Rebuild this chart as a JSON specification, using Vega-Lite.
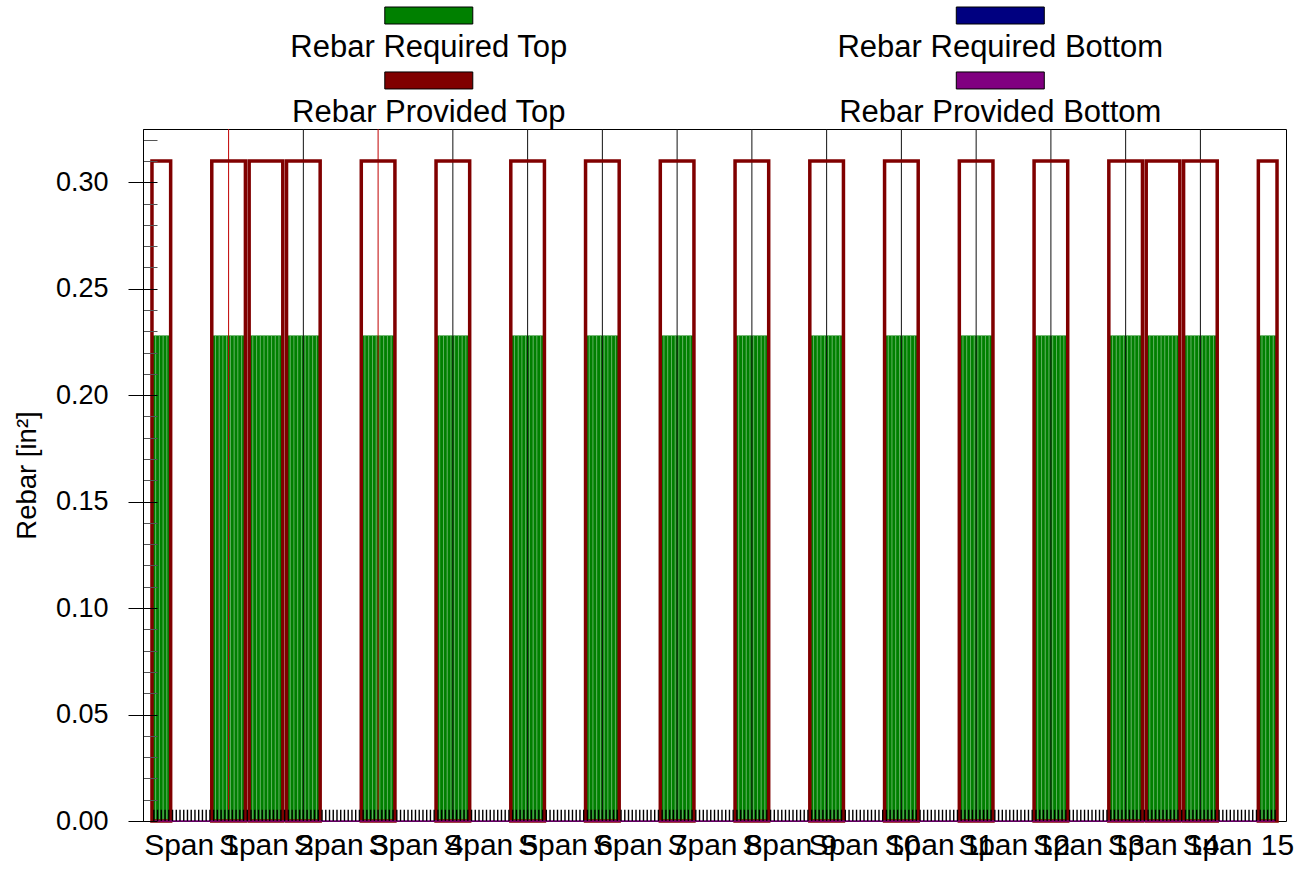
{
  "$schema": "https://vega.github.io/schema/vega-lite/v6.json",
  "width": 1143,
  "height": 692,
  "autosize": {"type": "none"},
  "padding": {"left": 143, "top": 129, "right": 26, "bottom": 52},
  "background": "white",
  "config": {
    "view": {"stroke": "black", "strokeWidth": 1},
    "font": "Liberation Sans",
    "axis": {"labelFont": "Liberation Sans", "titleFont": "Liberation Sans", "labelColor": "black", "titleColor": "black"}
  },
  "datasets": {
    "pts": [
      {"pos":0,"top":0.228,"bot":0.0053},{"pos":0.05,"top":0.228,"bot":0.0053},{"pos":0.1,"top":0.228,"bot":0.0053},{"pos":0.15,"top":0.228,"bot":0.0053},{"pos":0.2,"top":0.228,"bot":0.0053},{"pos":0.25,"top":0,"bot":0.0053},{"pos":0.3,"top":0,"bot":0.0053},{"pos":0.35,"top":0,"bot":0.0053},{"pos":0.4,"top":0,"bot":0.0053},{"pos":0.45,"top":0,"bot":0.0053},{"pos":0.5,"top":0,"bot":0.0053},{"pos":0.55,"top":0,"bot":0.0053},{"pos":0.6,"top":0,"bot":0.0053},{"pos":0.65,"top":0,"bot":0.0053},{"pos":0.7,"top":0,"bot":0.0053},{"pos":0.75,"top":0,"bot":0.0053},{"pos":0.8,"top":0.228,"bot":0.0053},{"pos":0.85,"top":0.228,"bot":0.0053},{"pos":0.9,"top":0.228,"bot":0.0053},{"pos":0.95,"top":0.228,"bot":0.0053},
      {"pos":1,"top":0.228,"bot":0.0053},{"pos":1.05,"top":0.228,"bot":0.0053},{"pos":1.1,"top":0.228,"bot":0.0053},{"pos":1.15,"top":0.228,"bot":0.0053},{"pos":1.2,"top":0.228,"bot":0.0053},{"pos":1.25,"top":0,"bot":0.0053},{"pos":1.3,"top":0.228,"bot":0.0053},{"pos":1.35,"top":0.228,"bot":0.0053},{"pos":1.4,"top":0.228,"bot":0.0053},{"pos":1.45,"top":0.228,"bot":0.0053},{"pos":1.5,"top":0.228,"bot":0.0053},{"pos":1.55,"top":0.228,"bot":0.0053},{"pos":1.6,"top":0.228,"bot":0.0053},{"pos":1.65,"top":0.228,"bot":0.0053},{"pos":1.7,"top":0.228,"bot":0.0053},{"pos":1.75,"top":0,"bot":0.0053},{"pos":1.8,"top":0.228,"bot":0.0053},{"pos":1.85,"top":0.228,"bot":0.0053},{"pos":1.9,"top":0.228,"bot":0.0053},{"pos":1.95,"top":0.228,"bot":0.0053},
      {"pos":2,"top":0.228,"bot":0.0053},{"pos":2.05,"top":0.228,"bot":0.0053},{"pos":2.1,"top":0.228,"bot":0.0053},{"pos":2.15,"top":0.228,"bot":0.0053},{"pos":2.2,"top":0.228,"bot":0.0053},{"pos":2.25,"top":0,"bot":0.0053},{"pos":2.3,"top":0,"bot":0.0053},{"pos":2.35,"top":0,"bot":0.0053},{"pos":2.4,"top":0,"bot":0.0053},{"pos":2.45,"top":0,"bot":0.0053},{"pos":2.5,"top":0,"bot":0.0053},{"pos":2.55,"top":0,"bot":0.0053},{"pos":2.6,"top":0,"bot":0.0053},{"pos":2.65,"top":0,"bot":0.0053},{"pos":2.7,"top":0,"bot":0.0053},{"pos":2.75,"top":0,"bot":0.0053},{"pos":2.8,"top":0.228,"bot":0.0053},{"pos":2.85,"top":0.228,"bot":0.0053},{"pos":2.9,"top":0.228,"bot":0.0053},{"pos":2.95,"top":0.228,"bot":0.0053},
      {"pos":3,"top":0.228,"bot":0.0053},{"pos":3.05,"top":0.228,"bot":0.0053},{"pos":3.1,"top":0.228,"bot":0.0053},{"pos":3.15,"top":0.228,"bot":0.0053},{"pos":3.2,"top":0.228,"bot":0.0053},{"pos":3.25,"top":0,"bot":0.0053},{"pos":3.3,"top":0,"bot":0.0053},{"pos":3.35,"top":0,"bot":0.0053},{"pos":3.4,"top":0,"bot":0.0053},{"pos":3.45,"top":0,"bot":0.0053},{"pos":3.5,"top":0,"bot":0.0053},{"pos":3.55,"top":0,"bot":0.0053},{"pos":3.6,"top":0,"bot":0.0053},{"pos":3.65,"top":0,"bot":0.0053},{"pos":3.7,"top":0,"bot":0.0053},{"pos":3.75,"top":0,"bot":0.0053},{"pos":3.8,"top":0.228,"bot":0.0053},{"pos":3.85,"top":0.228,"bot":0.0053},{"pos":3.9,"top":0.228,"bot":0.0053},{"pos":3.95,"top":0.228,"bot":0.0053},
      {"pos":4,"top":0.228,"bot":0.0053},{"pos":4.05,"top":0.228,"bot":0.0053},{"pos":4.1,"top":0.228,"bot":0.0053},{"pos":4.15,"top":0.228,"bot":0.0053},{"pos":4.2,"top":0.228,"bot":0.0053},{"pos":4.25,"top":0,"bot":0.0053},{"pos":4.3,"top":0,"bot":0.0053},{"pos":4.35,"top":0,"bot":0.0053},{"pos":4.4,"top":0,"bot":0.0053},{"pos":4.45,"top":0,"bot":0.0053},{"pos":4.5,"top":0,"bot":0.0053},{"pos":4.55,"top":0,"bot":0.0053},{"pos":4.6,"top":0,"bot":0.0053},{"pos":4.65,"top":0,"bot":0.0053},{"pos":4.7,"top":0,"bot":0.0053},{"pos":4.75,"top":0,"bot":0.0053},{"pos":4.8,"top":0.228,"bot":0.0053},{"pos":4.85,"top":0.228,"bot":0.0053},{"pos":4.9,"top":0.228,"bot":0.0053},{"pos":4.95,"top":0.228,"bot":0.0053},
      {"pos":5,"top":0.228,"bot":0.0053},{"pos":5.05,"top":0.228,"bot":0.0053},{"pos":5.1,"top":0.228,"bot":0.0053},{"pos":5.15,"top":0.228,"bot":0.0053},{"pos":5.2,"top":0.228,"bot":0.0053},{"pos":5.25,"top":0,"bot":0.0053},{"pos":5.3,"top":0,"bot":0.0053},{"pos":5.35,"top":0,"bot":0.0053},{"pos":5.4,"top":0,"bot":0.0053},{"pos":5.45,"top":0,"bot":0.0053},{"pos":5.5,"top":0,"bot":0.0053},{"pos":5.55,"top":0,"bot":0.0053},{"pos":5.6,"top":0,"bot":0.0053},{"pos":5.65,"top":0,"bot":0.0053},{"pos":5.7,"top":0,"bot":0.0053},{"pos":5.75,"top":0,"bot":0.0053},{"pos":5.8,"top":0.228,"bot":0.0053},{"pos":5.85,"top":0.228,"bot":0.0053},{"pos":5.9,"top":0.228,"bot":0.0053},{"pos":5.95,"top":0.228,"bot":0.0053},
      {"pos":6,"top":0.228,"bot":0.0053},{"pos":6.05,"top":0.228,"bot":0.0053},{"pos":6.1,"top":0.228,"bot":0.0053},{"pos":6.15,"top":0.228,"bot":0.0053},{"pos":6.2,"top":0.228,"bot":0.0053},{"pos":6.25,"top":0,"bot":0.0053},{"pos":6.3,"top":0,"bot":0.0053},{"pos":6.35,"top":0,"bot":0.0053},{"pos":6.4,"top":0,"bot":0.0053},{"pos":6.45,"top":0,"bot":0.0053},{"pos":6.5,"top":0,"bot":0.0053},{"pos":6.55,"top":0,"bot":0.0053},{"pos":6.6,"top":0,"bot":0.0053},{"pos":6.65,"top":0,"bot":0.0053},{"pos":6.7,"top":0,"bot":0.0053},{"pos":6.75,"top":0,"bot":0.0053},{"pos":6.8,"top":0.228,"bot":0.0053},{"pos":6.85,"top":0.228,"bot":0.0053},{"pos":6.9,"top":0.228,"bot":0.0053},{"pos":6.95,"top":0.228,"bot":0.0053},
      {"pos":7,"top":0.228,"bot":0.0053},{"pos":7.05,"top":0.228,"bot":0.0053},{"pos":7.1,"top":0.228,"bot":0.0053},{"pos":7.15,"top":0.228,"bot":0.0053},{"pos":7.2,"top":0.228,"bot":0.0053},{"pos":7.25,"top":0,"bot":0.0053},{"pos":7.3,"top":0,"bot":0.0053},{"pos":7.35,"top":0,"bot":0.0053},{"pos":7.4,"top":0,"bot":0.0053},{"pos":7.45,"top":0,"bot":0.0053},{"pos":7.5,"top":0,"bot":0.0053},{"pos":7.55,"top":0,"bot":0.0053},{"pos":7.6,"top":0,"bot":0.0053},{"pos":7.65,"top":0,"bot":0.0053},{"pos":7.7,"top":0,"bot":0.0053},{"pos":7.75,"top":0,"bot":0.0053},{"pos":7.8,"top":0.228,"bot":0.0053},{"pos":7.85,"top":0.228,"bot":0.0053},{"pos":7.9,"top":0.228,"bot":0.0053},{"pos":7.95,"top":0.228,"bot":0.0053},
      {"pos":8,"top":0.228,"bot":0.0053},{"pos":8.05,"top":0.228,"bot":0.0053},{"pos":8.1,"top":0.228,"bot":0.0053},{"pos":8.15,"top":0.228,"bot":0.0053},{"pos":8.2,"top":0.228,"bot":0.0053},{"pos":8.25,"top":0,"bot":0.0053},{"pos":8.3,"top":0,"bot":0.0053},{"pos":8.35,"top":0,"bot":0.0053},{"pos":8.4,"top":0,"bot":0.0053},{"pos":8.45,"top":0,"bot":0.0053},{"pos":8.5,"top":0,"bot":0.0053},{"pos":8.55,"top":0,"bot":0.0053},{"pos":8.6,"top":0,"bot":0.0053},{"pos":8.65,"top":0,"bot":0.0053},{"pos":8.7,"top":0,"bot":0.0053},{"pos":8.75,"top":0,"bot":0.0053},{"pos":8.8,"top":0.228,"bot":0.0053},{"pos":8.85,"top":0.228,"bot":0.0053},{"pos":8.9,"top":0.228,"bot":0.0053},{"pos":8.95,"top":0.228,"bot":0.0053},
      {"pos":9,"top":0.228,"bot":0.0053},{"pos":9.05,"top":0.228,"bot":0.0053},{"pos":9.1,"top":0.228,"bot":0.0053},{"pos":9.15,"top":0.228,"bot":0.0053},{"pos":9.2,"top":0.228,"bot":0.0053},{"pos":9.25,"top":0,"bot":0.0053},{"pos":9.3,"top":0,"bot":0.0053},{"pos":9.35,"top":0,"bot":0.0053},{"pos":9.4,"top":0,"bot":0.0053},{"pos":9.45,"top":0,"bot":0.0053},{"pos":9.5,"top":0,"bot":0.0053},{"pos":9.55,"top":0,"bot":0.0053},{"pos":9.6,"top":0,"bot":0.0053},{"pos":9.65,"top":0,"bot":0.0053},{"pos":9.7,"top":0,"bot":0.0053},{"pos":9.75,"top":0,"bot":0.0053},{"pos":9.8,"top":0.228,"bot":0.0053},{"pos":9.85,"top":0.228,"bot":0.0053},{"pos":9.9,"top":0.228,"bot":0.0053},{"pos":9.95,"top":0.228,"bot":0.0053},
      {"pos":10,"top":0.228,"bot":0.0053},{"pos":10.05,"top":0.228,"bot":0.0053},{"pos":10.1,"top":0.228,"bot":0.0053},{"pos":10.15,"top":0.228,"bot":0.0053},{"pos":10.2,"top":0.228,"bot":0.0053},{"pos":10.25,"top":0,"bot":0.0053},{"pos":10.3,"top":0,"bot":0.0053},{"pos":10.35,"top":0,"bot":0.0053},{"pos":10.4,"top":0,"bot":0.0053},{"pos":10.45,"top":0,"bot":0.0053},{"pos":10.5,"top":0,"bot":0.0053},{"pos":10.55,"top":0,"bot":0.0053},{"pos":10.6,"top":0,"bot":0.0053},{"pos":10.65,"top":0,"bot":0.0053},{"pos":10.7,"top":0,"bot":0.0053},{"pos":10.75,"top":0,"bot":0.0053},{"pos":10.8,"top":0.228,"bot":0.0053},{"pos":10.85,"top":0.228,"bot":0.0053},{"pos":10.9,"top":0.228,"bot":0.0053},{"pos":10.95,"top":0.228,"bot":0.0053},
      {"pos":11,"top":0.228,"bot":0.0053},{"pos":11.05,"top":0.228,"bot":0.0053},{"pos":11.1,"top":0.228,"bot":0.0053},{"pos":11.15,"top":0.228,"bot":0.0053},{"pos":11.2,"top":0.228,"bot":0.0053},{"pos":11.25,"top":0,"bot":0.0053},{"pos":11.3,"top":0,"bot":0.0053},{"pos":11.35,"top":0,"bot":0.0053},{"pos":11.4,"top":0,"bot":0.0053},{"pos":11.45,"top":0,"bot":0.0053},{"pos":11.5,"top":0,"bot":0.0053},{"pos":11.55,"top":0,"bot":0.0053},{"pos":11.6,"top":0,"bot":0.0053},{"pos":11.65,"top":0,"bot":0.0053},{"pos":11.7,"top":0,"bot":0.0053},{"pos":11.75,"top":0,"bot":0.0053},{"pos":11.8,"top":0.228,"bot":0.0053},{"pos":11.85,"top":0.228,"bot":0.0053},{"pos":11.9,"top":0.228,"bot":0.0053},{"pos":11.95,"top":0.228,"bot":0.0053},
      {"pos":12,"top":0.228,"bot":0.0053},{"pos":12.05,"top":0.228,"bot":0.0053},{"pos":12.1,"top":0.228,"bot":0.0053},{"pos":12.15,"top":0.228,"bot":0.0053},{"pos":12.2,"top":0.228,"bot":0.0053},{"pos":12.25,"top":0,"bot":0.0053},{"pos":12.3,"top":0,"bot":0.0053},{"pos":12.35,"top":0,"bot":0.0053},{"pos":12.4,"top":0,"bot":0.0053},{"pos":12.45,"top":0,"bot":0.0053},{"pos":12.5,"top":0,"bot":0.0053},{"pos":12.55,"top":0,"bot":0.0053},{"pos":12.6,"top":0,"bot":0.0053},{"pos":12.65,"top":0,"bot":0.0053},{"pos":12.7,"top":0,"bot":0.0053},{"pos":12.75,"top":0,"bot":0.0053},{"pos":12.8,"top":0.228,"bot":0.0053},{"pos":12.85,"top":0.228,"bot":0.0053},{"pos":12.9,"top":0.228,"bot":0.0053},{"pos":12.95,"top":0.228,"bot":0.0053},
      {"pos":13,"top":0.228,"bot":0.0053},{"pos":13.05,"top":0.228,"bot":0.0053},{"pos":13.1,"top":0.228,"bot":0.0053},{"pos":13.15,"top":0.228,"bot":0.0053},{"pos":13.2,"top":0.228,"bot":0.0053},{"pos":13.25,"top":0,"bot":0.0053},{"pos":13.3,"top":0.228,"bot":0.0053},{"pos":13.35,"top":0.228,"bot":0.0053},{"pos":13.4,"top":0.228,"bot":0.0053},{"pos":13.45,"top":0.228,"bot":0.0053},{"pos":13.5,"top":0.228,"bot":0.0053},{"pos":13.55,"top":0.228,"bot":0.0053},{"pos":13.6,"top":0.228,"bot":0.0053},{"pos":13.65,"top":0.228,"bot":0.0053},{"pos":13.7,"top":0.228,"bot":0.0053},{"pos":13.75,"top":0,"bot":0.0053},{"pos":13.8,"top":0.228,"bot":0.0053},{"pos":13.85,"top":0.228,"bot":0.0053},{"pos":13.9,"top":0.228,"bot":0.0053},{"pos":13.95,"top":0.228,"bot":0.0053},
      {"pos":14,"top":0.228,"bot":0.0053},{"pos":14.05,"top":0.228,"bot":0.0053},{"pos":14.1,"top":0.228,"bot":0.0053},{"pos":14.15,"top":0.228,"bot":0.0053},{"pos":14.2,"top":0.228,"bot":0.0053},{"pos":14.25,"top":0,"bot":0.0053},{"pos":14.3,"top":0,"bot":0.0053},{"pos":14.35,"top":0,"bot":0.0053},{"pos":14.4,"top":0,"bot":0.0053},{"pos":14.45,"top":0,"bot":0.0053},{"pos":14.5,"top":0,"bot":0.0053},{"pos":14.55,"top":0,"bot":0.0053},{"pos":14.6,"top":0,"bot":0.0053},{"pos":14.65,"top":0,"bot":0.0053},{"pos":14.7,"top":0,"bot":0.0053},{"pos":14.75,"top":0,"bot":0.0053},{"pos":14.8,"top":0.228,"bot":0.0053},{"pos":14.85,"top":0.228,"bot":0.0053},{"pos":14.9,"top":0.228,"bot":0.0053},{"pos":14.95,"top":0.228,"bot":0.0053},
      {"pos":15,"top":0.228,"bot":0.0053}
    ],
    "provided": [
      {"start":-0.025,"end":0.225,"prov":0.31},
      {"start":0.775,"end":1.225,"prov":0.31},
      {"start":1.275,"end":1.725,"prov":0.31},
      {"start":1.775,"end":2.225,"prov":0.31},
      {"start":2.775,"end":3.225,"prov":0.31},
      {"start":3.775,"end":4.225,"prov":0.31},
      {"start":4.775,"end":5.225,"prov":0.31},
      {"start":5.775,"end":6.225,"prov":0.31},
      {"start":6.775,"end":7.225,"prov":0.31},
      {"start":7.775,"end":8.225,"prov":0.31},
      {"start":8.775,"end":9.225,"prov":0.31},
      {"start":9.775,"end":10.225,"prov":0.31},
      {"start":10.775,"end":11.225,"prov":0.31},
      {"start":11.775,"end":12.225,"prov":0.31},
      {"start":12.775,"end":13.225,"prov":0.31},
      {"start":13.275,"end":13.725,"prov":0.31},
      {"start":13.775,"end":14.225,"prov":0.31},
      {"start":14.775,"end":15.025,"prov":0.31}
    ],
    "supports": [
      {"pos":1,"grp":"a"},{"pos":2,"grp":"b"},{"pos":3,"grp":"a"},{"pos":4,"grp":"b"},{"pos":5,"grp":"b"},{"pos":6,"grp":"b"},{"pos":7,"grp":"b"},
      {"pos":8,"grp":"b"},{"pos":9,"grp":"b"},{"pos":10,"grp":"b"},{"pos":11,"grp":"b"},{"pos":12,"grp":"b"},{"pos":13,"grp":"b"},{"pos":14,"grp":"b"}
    ],
    "provBottom": [
      {"pos":0,"pbot":0},{"pos":15,"pbot":0}
    ],
    "legend": [
      {"name":"Rebar Required Top","lx":3.678,"ly":0.3783},
      {"name":"Rebar Provided Top","lx":3.678,"ly":0.3478},
      {"name":"Rebar Required Bottom","lx":11.323,"ly":0.3783},
      {"name":"Rebar Provided Bottom","lx":11.323,"ly":0.3478}
    ]
  },
  "layer": [
    {
      "data": {"name": "pts"},
      "transform": [{"filter": "datum.top > 0"}],
      "mark": {"type": "bar", "size": 3.74, "fill": "#008000", "stroke": "#74bb74", "strokeWidth": 0.6},
      "encoding": {
        "x": {
          "field": "pos", "type": "quantitative",
          "scale": {"domain": [-0.145, 15.145], "nice": false, "zero": false, "padding": 0},
          "axis": {
            "title": null,
            "values": [0.5,1.5,2.5,3.5,4.5,5.5,6.5,7.5,8.5,9.5,10.5,11.5,12.5,13.5,14.5],
            "tickCount": 40,
            "labelExpr": "'Span ' + round(datum.value + 0.5)",
            "ticks": false, "domain": false, "grid": false,
            "labelFontSize": 30, "labelPadding": 9,
            "labelOverlap": false, "labelFlush": false, "labelBound": false
          }
        },
        "y": {
          "field": "top", "type": "quantitative",
          "scale": {"domain": [0, 0.325], "nice": false, "zero": false, "padding": 0},
          "axis": {
            "title": "Rebar [in²]", "titleFontSize": 27.5, "titleFontWeight": "normal", "titlePadding": 14,
            "values": [0,0.01,0.02,0.03,0.04,0.05,0.06,0.07,0.08,0.09,0.1,0.11,0.12,0.13,0.14,0.15,0.16,0.17,0.18,0.19,0.2,0.21,0.22,0.23,0.24,0.25,0.26,0.27,0.28,0.29,0.3,0.31,0.32],
            "tickCount": 60,
            "labelExpr": "abs(datum.value * 20 - round(datum.value * 20)) < 0.0001 ? format(datum.value, '.2f') : ''",
            "labelFontSize": 27, "labelPadding": 20,
            "labelOverlap": false, "labelFlush": false, "labelBound": false,
            "tickSize": 15, "tickWidth": 1,
            "tickColor": {"condition": {"test": "abs(datum.value * 20 - round(datum.value * 20)) < 0.0001", "value": "black"}, "value": "transparent"},
            "grid": true, "gridDash": [14, 3000], "gridWidth": 1,
            "gridColor": {"condition": {"test": "abs(datum.value * 20 - round(datum.value * 20)) < 0.0001", "value": "black"}, "value": "#555555"},
            "domain": true, "domainColor": "black", "zindex": 1
          }
        }
      }
    },
    {
      "data": {"name": "supports"},
      "mark": {"type": "rule", "strokeWidth": 1},
      "encoding": {
        "x": {"field": "pos", "type": "quantitative"},
        "stroke": {"field": "grp", "type": "nominal", "scale": {"domain": ["a", "b"], "range": ["#c00000", "#111111"]}, "legend": null}
      }
    },
    {
      "data": {"name": "provided"},
      "mark": {"type": "rect", "fill": "transparent", "stroke": "#800000", "strokeWidth": 3.5},
      "encoding": {
        "x": {"field": "start", "type": "quantitative"},
        "x2": {"field": "end"},
        "y": {"field": "prov", "type": "quantitative"},
        "y2": {"datum": 0}
      }
    },
    {
      "data": {"name": "provBottom"},
      "mark": {"type": "line", "stroke": "#800080", "strokeWidth": 1.5},
      "encoding": {
        "x": {"field": "pos", "type": "quantitative"},
        "y": {"field": "pbot", "type": "quantitative"}
      }
    },
    {
      "data": {"name": "pts"},
      "mark": {"type": "bar", "size": 1.4, "fill": "black"},
      "encoding": {
        "x": {"field": "pos", "type": "quantitative"},
        "y": {"field": "bot", "type": "quantitative"}
      }
    },
    {
      "data": {"name": "legend"},
      "mark": {"type": "tick", "orient": "horizontal", "size": 88, "thickness": 17, "stroke": "black", "strokeWidth": 1, "opacity": 1},
      "encoding": {
        "x": {"field": "lx", "type": "quantitative"},
        "y": {"field": "ly", "type": "quantitative"},
        "fill": {"field": "name", "type": "nominal", "scale": {"domain": ["Rebar Required Top", "Rebar Provided Top", "Rebar Required Bottom", "Rebar Provided Bottom"], "range": ["#008000", "#800000", "#000080", "#800080"]}, "legend": null}
      }
    },
    {
      "data": {"name": "legend"},
      "mark": {"type": "text", "dy": 41.5, "baseline": "alphabetic", "align": "center", "fontSize": 31, "font": "Liberation Sans", "color": "black"},
      "encoding": {
        "x": {"field": "lx", "type": "quantitative"},
        "y": {"field": "ly", "type": "quantitative"},
        "text": {"field": "name", "type": "nominal"}
      }
    }
  ]
}
